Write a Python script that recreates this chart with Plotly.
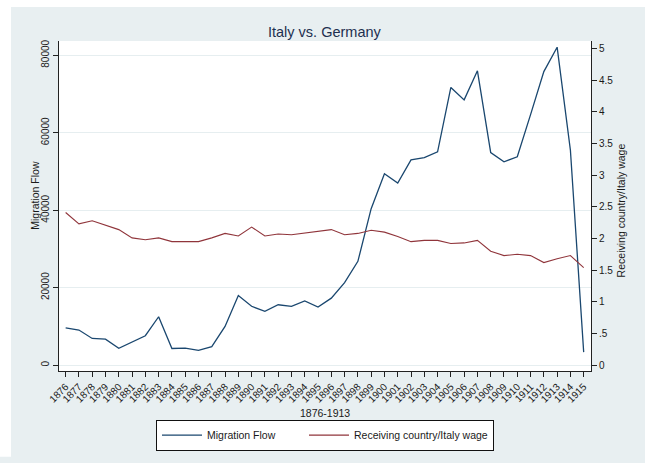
import plotly.graph_objects as go

years = list(range(1876, 1916))
migration_flow = [9600, 9060, 6900, 6700, 4350, 5950, 7600, 12500, 4300, 4400,
                  3800, 4800, 10000, 18000, 15200, 13900, 15600, 15200, 16600, 15000,
                  17300, 21300, 26800, 40400, 49400, 47000, 53000, 53600, 55100, 71700,
                  68500, 76000, 54900, 52500, 53800, 64700, 75800, 82100, 55500, 3360]
wage_ratio = [2.41, 2.23, 2.28, 2.21, 2.14, 2.01, 1.98, 2.01, 1.95, 1.95,
              1.95, 2.01, 2.08, 2.04, 2.18, 2.04, 2.07, 2.06, 2.09, 2.12,
              2.14, 2.06, 2.08, 2.13, 2.10, 2.03, 1.95, 1.97, 1.97, 1.92,
              1.93, 1.97, 1.80, 1.73, 1.75, 1.73, 1.62, 1.68, 1.73, 1.54]
left_ticks = [0, 20000, 40000, 60000, 80000]
right_ticks = [0, 0.5, 1, 1.5, 2, 2.5, 3, 3.5, 4, 4.5, 5]
right_ticktext = ["0", ".5", "1", "1.5", "2", "2.5", "3", "3.5", "4", "4.5", "5"]

BG = "#e8eff1"
BLUE = "#1a476f"
RED = "#90353b"
GRID = "#e6eef0"
FONT = "Liberation Sans, Arial, sans-serif"
TXT = "#1a1a1a"

# plot area in pixels
L, R, T, B = 59, 591, 41, 380
W, H = 645, 463
PW, PH = R - L, B - T

def px(x):
    return (x - L) / PW

def py(y):
    return (B - y) / PH

fig = go.Figure()
fig.add_trace(go.Scatter(x=years, y=migration_flow, mode="lines", name="Migration Flow",
                         line=dict(color=BLUE, width=1.3), yaxis="y", legendwidth=92))
fig.add_trace(go.Scatter(x=years, y=wage_ratio, mode="lines", name="Receiving country/Italy wage",
                         line=dict(color=RED, width=1.1), yaxis="y2", legendwidth=134))

fig.update_layout(
    template="none",
    width=W, height=H,
    margin=dict(l=L, r=W - R, t=T, b=H - B, pad=0),
    paper_bgcolor=BG, plot_bgcolor="white",
    font=dict(family=FONT, color=TXT, size=10),
    showlegend=True,
    legend=dict(orientation="h", x=0.5, xanchor="center", y=py(430), yanchor="top",
                bgcolor="white", bordercolor="#111", borderwidth=1,
                font=dict(size=10.5, family=FONT, color=TXT), itemwidth=40,
                tracegroupgap=0),
    xaxis=dict(range=[1875.5, 1915.55], tickmode="array", tickvals=years,
               ticktext=[str(y) for y in years], tickangle=-45,
               tickfont=dict(size=10), ticks="outside", ticklen=5, tickcolor="#222",
               showline=True, linecolor="#222", linewidth=1, showgrid=False,
               zeroline=False, mirror=False, automargin=False),
    yaxis=dict(range=[-1509, 83700], tickmode="array", tickvals=left_ticks,
               ticktext=[str(v) for v in left_ticks], tickangle=-90,
               tickfont=dict(size=10), ticks="outside", ticklen=5, tickcolor="#222",
               showline=True, linecolor="#222", linewidth=1,
               showgrid=True, gridcolor=GRID, gridwidth=1, zeroline=False, automargin=False),
    yaxis2=dict(range=[-0.0923, 5.118], overlaying="y", side="right", tickmode="array",
                tickvals=right_ticks, ticktext=right_ticktext,
                tickfont=dict(size=10), ticks="outside", ticklen=5, tickcolor="#222",
                showline=True, linecolor="#222", linewidth=1, showgrid=False,
                zeroline=False, automargin=False),
    shapes=[
        dict(type="rect", xref="paper", yref="paper", x0=px(-5), x1=px(11), y0=py(H + 5), y1=py(-5),
             fillcolor="white", line=dict(width=0), layer="below"),
        dict(type="rect", xref="paper", yref="paper", x0=px(-5), x1=px(W + 5), y0=py(6), y1=py(-5),
             fillcolor="white", line=dict(width=0), layer="below"),
    ],
    annotations=[
        dict(text="Italy vs. Germany", xref="paper", yref="paper", x=px(325), y=py(32),
             xanchor="center", yanchor="middle", showarrow=False,
             font=dict(size=14.5, color="#1e2f4f", family=FONT)),
        dict(text="1876-1913", xref="paper", yref="paper", x=px(325), y=py(423),
             xanchor="center", yanchor="middle", showarrow=False,
             font=dict(size=10.5, color=TXT, family=FONT)),
        dict(text="Migration Flow", xref="paper", yref="paper", x=px(35), y=py(200),
             xanchor="center", yanchor="middle", textangle=-90, showarrow=False,
             font=dict(size=10.5, color=TXT, family=FONT)),
        dict(text="Receiving country/Italy wage", xref="paper", yref="paper", x=px(621), y=py(215),
             xanchor="center", yanchor="middle", textangle=-90, showarrow=False,
             font=dict(size=10.5, color=TXT, family=FONT)),
    ],
)

fig.write_html("out.html", post_script="document.body.style.margin='0';",
               config={"displayModeBar": False})
